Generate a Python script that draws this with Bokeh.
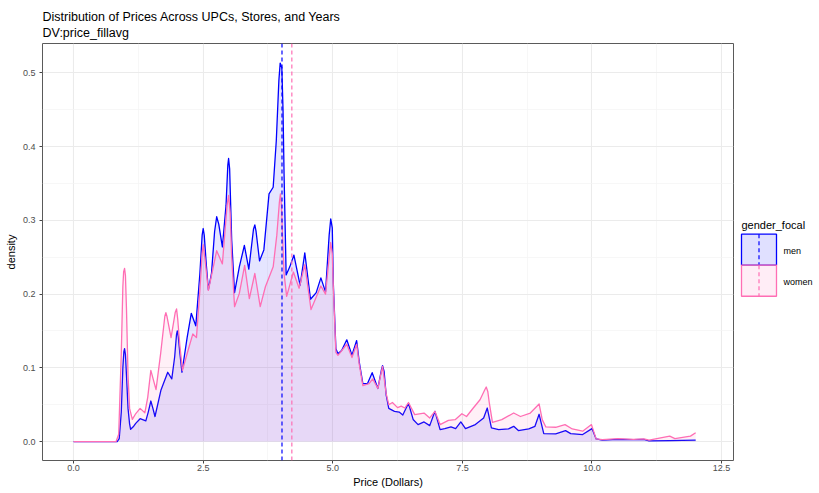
from bokeh.plotting import figure
from bokeh.layouts import row
from bokeh.models import Range1d, FixedTicker, PrintfTickFormatter, Title, Span
from bokeh.core.properties import value
from bokeh.embed import file_html
from bokeh.resources import INLINE

# ---------------- data ----------------
men_x = [0.0, 0.84, 0.88, 0.92, 0.95, 0.97, 0.983, 1.0, 1.02, 1.05, 1.08, 1.10, 1.15, 1.198, 1.283, 1.393,
         1.44, 1.49, 1.53, 1.57, 1.686, 1.816, 1.894, 1.95, 1.985, 2.0, 2.02, 2.05, 2.09, 2.19, 2.27, 2.357,
         2.435, 2.48, 2.5, 2.52, 2.56, 2.60, 2.66, 2.72, 2.76, 2.80, 2.87, 2.94, 2.975, 2.99, 3.01, 3.05, 3.105,
         3.197, 3.294, 3.38, 3.47, 3.496, 3.52, 3.587, 3.67, 3.77, 3.85, 3.91, 3.96, 3.985, 4.017, 4.04, 4.06,
         4.10, 4.17, 4.25, 4.37, 4.46, 4.57, 4.68, 4.77, 4.86, 4.93, 4.96, 4.99, 5.01, 5.06, 5.10, 5.17, 5.27,
         5.37, 5.46, 5.51, 5.58, 5.67, 5.76, 5.87, 5.94, 5.96, 5.99, 6.03, 6.08, 6.19, 6.28, 6.35, 6.46, 6.55,
         6.645, 6.76, 6.87, 6.97, 7.07, 7.16, 7.28, 7.37, 7.47, 7.56, 7.75, 7.91, 7.98, 8.06, 8.2, 8.39, 8.49,
         8.58, 8.78, 8.9, 8.98, 9.07, 9.3, 9.49, 9.59, 9.82, 10.0, 10.08, 10.2, 10.5, 10.8, 11.0, 11.1, 11.5, 12.0]
men_y = [0.0, 0.0, 0.004, 0.04, 0.10, 0.122, 0.126, 0.118, 0.09, 0.045, 0.024, 0.0166, 0.02, 0.0247, 0.031, 0.028,
         0.04, 0.055, 0.045, 0.034, 0.070, 0.094, 0.085, 0.115, 0.145, 0.150, 0.142, 0.12, 0.094, 0.141, 0.174, 0.157,
         0.227, 0.28, 0.289, 0.28, 0.24, 0.206, 0.228, 0.285, 0.305, 0.295, 0.264, 0.32, 0.375, 0.384, 0.37, 0.273, 0.202,
         0.237, 0.266, 0.234, 0.288, 0.294, 0.285, 0.245, 0.26, 0.336, 0.345, 0.408, 0.49, 0.5135, 0.507, 0.45, 0.363,
         0.226, 0.237, 0.253, 0.212, 0.256, 0.193, 0.202, 0.222, 0.203, 0.28, 0.302, 0.29, 0.215, 0.126, 0.119, 0.1235, 0.138,
         0.117, 0.137, 0.108, 0.0786, 0.0786, 0.0934, 0.072, 0.098, 0.103, 0.095, 0.063, 0.045, 0.041, 0.040, 0.036, 0.052, 0.030,
         0.023, 0.0266, 0.0216, 0.041, 0.0162, 0.0176, 0.0198, 0.0176, 0.0266, 0.0176, 0.023, 0.032, 0.0455, 0.0185, 0.0162, 0.0171, 0.0207,
         0.0149, 0.0171, 0.0207, 0.037, 0.0108, 0.0104, 0.0149, 0.0108, 0.0095, 0.0176, 0.0036, 0.002, 0.003, 0.0025, 0.003, 0.001, 0.0012, 0.002]

women_x = [0.0, 0.82, 0.87, 0.92, 0.95, 0.965, 0.983, 1.0, 1.02, 1.05, 1.08, 1.133, 1.2, 1.283, 1.374, 1.43,
           1.49, 1.59, 1.68, 1.76, 1.78, 1.80, 1.88, 1.96, 1.986, 2.01, 2.05, 2.10, 2.207, 2.30, 2.37, 2.435, 2.48,
           2.5, 2.53, 2.6, 2.76, 2.87, 2.96, 2.99, 3.02, 3.05, 3.105, 3.197, 3.30, 3.39, 3.496, 3.6, 3.70, 3.85, 3.92,
           3.97, 3.99, 4.01, 4.03, 4.06, 4.11, 4.24, 4.35, 4.46, 4.58, 4.77, 4.86, 4.93, 4.96, 4.99, 5.01, 5.06, 5.10,
           5.27, 5.37, 5.46, 5.51, 5.58, 5.70, 5.77, 5.87, 5.96, 6.03, 6.08, 6.15, 6.25, 6.32, 6.39, 6.46, 6.58,
           6.76, 6.87, 6.97, 7.07, 7.23, 7.36, 7.49, 7.58, 7.71, 7.84, 7.93, 7.96, 7.99, 8.02, 8.08, 8.26, 8.49,
           8.62, 8.81, 8.98, 9.04, 9.11, 9.3, 9.48, 9.62, 9.82, 9.99, 10.08, 10.2, 10.5, 10.8, 11.0,
           11.1, 11.5, 11.6, 11.9, 12.0]
women_y = [0.0, 0.0, 0.01, 0.12, 0.21, 0.23, 0.235, 0.225, 0.18, 0.09, 0.045, 0.030, 0.038, 0.045, 0.039, 0.06,
           0.0965, 0.0705, 0.12, 0.17, 0.175, 0.17, 0.141, 0.175, 0.180, 0.165, 0.13, 0.0965, 0.1235, 0.146, 0.141, 0.204, 0.255,
           0.267, 0.25, 0.205, 0.259, 0.241, 0.32, 0.334, 0.31, 0.25, 0.183, 0.201, 0.239, 0.194, 0.228, 0.183, 0.21, 0.237, 0.28,
           0.325, 0.336, 0.32, 0.28, 0.228, 0.197, 0.230, 0.208, 0.24, 0.179, 0.211, 0.200, 0.25, 0.270, 0.255, 0.21, 0.121, 0.117,
           0.132, 0.114, 0.132, 0.105, 0.076, 0.0786, 0.085, 0.072, 0.102, 0.065, 0.050, 0.053, 0.046, 0.048, 0.0455, 0.053, 0.0365,
           0.0387, 0.032, 0.041, 0.023, 0.0288, 0.0297, 0.0378, 0.034, 0.0455, 0.0567, 0.07, 0.074, 0.068, 0.052, 0.026, 0.0297, 0.0387,
           0.034, 0.0387, 0.051, 0.0297, 0.0198, 0.0194, 0.023, 0.0171, 0.014, 0.023, 0.0036, 0.0027, 0.004, 0.003, 0.0037,
           0.002, 0.0074, 0.004, 0.0074, 0.012]

mean_men = 4.02
mean_women = 4.21

groups = ["men", "women"]
line_colors = {"men": "#0000ff", "women": "#ff6eb4"}
x_ticks = [0.0, 2.5, 5.0, 7.5, 10.0, 12.5]
y_ticks = [0.0, 0.1, 0.2, 0.3, 0.4, 0.5]
title_text = "Distribution of Prices Across UPCs, Stores, and Years"
subtitle_text = "DV:price_fillavg"
x_label = "Price (Dollars)"
y_label = "density"
legend_title = "gender_focal"

FONT = "Liberation Sans"

# ---------------- main panel ----------------
p = figure(width=738, height=490, x_range=Range1d(-0.6, 12.73), y_range=Range1d(-0.0257, 0.54),
           output_backend="svg", toolbar_location=None,
           min_border_left=42, min_border_right=5, min_border_top=43, min_border_bottom=0)
p.background_fill_color = "white"
p.border_fill_color = "white"
p.outline_line_color = "#5a5a5a"
p.outline_line_width = 1

p.add_layout(Title(text=title_text + "\n" + subtitle_text, text_font=FONT, text_font_size="12.5px",
                   text_font_style="normal", text_color="#000000", text_line_height=1.15,
                   standoff=7, offset=0), "above")

x_minor = [(a + b) / 2 for a, b in zip(x_ticks, x_ticks[1:])]
y_minor = [(a + b) / 2 for a, b in zip(y_ticks, y_ticks[1:])]
p.xaxis.ticker = FixedTicker(ticks=x_ticks, minor_ticks=x_minor)
p.yaxis.ticker = FixedTicker(ticks=y_ticks, minor_ticks=y_minor)
p.xgrid.ticker = FixedTicker(ticks=x_ticks, minor_ticks=x_minor)
p.ygrid.ticker = FixedTicker(ticks=y_ticks, minor_ticks=y_minor)
for g in (p.xgrid, p.ygrid):
    g.grid_line_color = "#ebebeb"
    g.grid_line_width = 1.1
    g.minor_grid_line_color = "#f4f4f4"
    g.minor_grid_line_width = 0.7

for ax in (p.xaxis, p.yaxis):
    ax.formatter = PrintfTickFormatter(format="%.1f")
    ax.axis_line_color = None
    ax.major_tick_line_color = "#444444"
    ax.major_tick_in = 0
    ax.major_tick_out = 3
    ax.minor_tick_line_color = None
    ax.major_label_text_font = FONT
    ax.major_label_text_font_size = "9px"
    ax.major_label_text_color = "#4d4d4d"
    ax.axis_label_text_font = FONT
    ax.axis_label_text_font_size = "11px"
    ax.axis_label_text_font_style = "normal"
    ax.axis_label_text_color = "#000000"
p.xaxis.major_label_standoff = 0
p.xaxis.axis_label_standoff = 2
p.yaxis.major_label_standoff = 3
p.yaxis.axis_label_standoff = 3
p.xaxis.axis_label = x_label
p.yaxis.axis_label = y_label

series = {"men": (men_x, men_y), "women": (women_x, women_y)}
for g in groups:
    xs, ys = series[g]
    p.varea(x=xs, y1=[0.0] * len(xs), y2=ys, fill_color=line_colors[g], fill_alpha=0.1)
    p.line(x=xs, y=ys, line_color=line_colors[g], line_width=1.3, line_join="round")

means = {"men": mean_men, "women": mean_women}
for g in groups:
    p.add_layout(Span(location=means[g], dimension="height", line_color=line_colors[g],
                      line_width=1.2, line_dash="4 3"))

# ---------------- legend panel ----------------
lg = figure(width=80, height=490, x_range=Range1d(0, 80), y_range=Range1d(490, 0),
            output_backend="svg", toolbar_location=None, x_axis_type=None, y_axis_type=None,
            min_border=0)
lg.outline_line_color = None
lg.grid.visible = False
lg.background_fill_color = "white"
lg.border_fill_color = "white"

lg.text(x=[3], y=[213], text=[legend_title], text_font=value(FONT), text_font_size="11px",
        text_baseline="middle", text_align="left", text_color="#000000")
key_top = 224
key_h = 36.5
for i, g in enumerate(groups):
    t = key_top + i * key_h
    lg.quad(left=[3], right=[38], top=[t], bottom=[t + key_h], fill_color=line_colors[g],
            fill_alpha=0.12, line_color=line_colors[g], line_width=1.3)
    lg.segment(x0=[20.5], y0=[t], x1=[20.5], y1=[t + key_h], line_color=line_colors[g],
               line_width=1.2, line_dash="4 3")
    lg.text(x=[45], y=[t + key_h / 2 + 1], text=[g], text_font=value(FONT), text_font_size="9px",
            text_baseline="middle", text_align="left", text_color="#000000")

layout = row(p, lg)
open("out.html", "w").write(file_html(layout, INLINE))
